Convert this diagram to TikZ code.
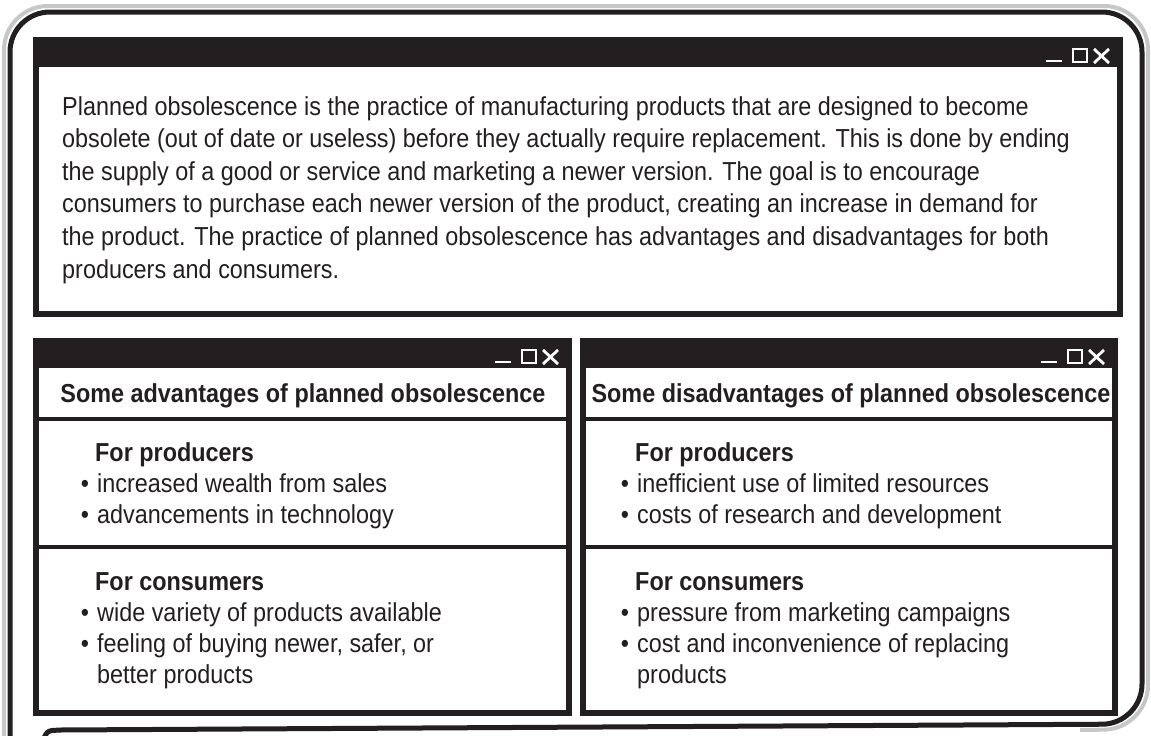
\documentclass[tikz,border=0pt]{standalone}
\usepackage{fontspec}
\setmainfont{Liberation Sans}[FakeStretch=0.90]
\definecolor{ink}{HTML}{231F20}
\definecolor{rim}{HTML}{C6C7C9}
\tikzset{
	winframe/.style={draw=ink, line width=6pt},
	winbar/.style={fill=ink},
	divider/.style={draw=ink, line width=4pt},
	btn/.style={draw=white, line width=2.8pt},
	bodytext/.style={anchor=base west, inner sep=0pt, text=ink, font=\fontsize{26}{31}\selectfont},
	headtext/.style={anchor=base, inner sep=0pt, text=ink, font=\fontsize{26}{31}\selectfont\bfseries},
	subhead/.style={anchor=base west, inner sep=0pt, text=ink, font=\fontsize{26}{31}\selectfont\bfseries},
	bulletdot/.style={anchor=base, inner sep=0pt, text=ink, font=\fontsize{26}{31}\selectfont}
}

\begin{document}
\begin{tikzpicture}[x=1pt, y=-1pt]
	\useasboundingbox (0,0) rectangle (1151,736);
	
	% outer frame
	\draw[rim, line width=4pt, rounded corners=44pt] (4,740) -- (4,6) -- (1148,6) -- (1148,729) -- (1080,730);
	\draw[ink, line width=5pt, rounded corners=40pt] (10,740) -- (10,12) -- (1142,12) -- (1142,724) -- (60,730);
	\draw[ink, line width=5pt] (60,730) -- (52,730.5) .. controls (48,731) and (46,733) .. (44,738);
	
	% windows
	\fill[winbar] (33,37) rectangle (1123,67);
	\draw[winframe] (36,40) rectangle (1120,314);
	\foreach \lx/\rx in {33/572, 580/1118} {
		\fill[winbar] (\lx,338) rectangle (\rx,368);
		\draw[winframe] (\lx+3,341) rectangle (\rx-3,713);
		\draw[divider] (\lx+3,419) -- (\rx-3,419);
		\draw[divider] (\lx+3,547) -- (\rx-3,547);
	}
	\foreach \rx/\by in {1123/67, 572/368, 1118/368} {
		\draw[btn] (\rx-77,\by-6) -- (\rx-61,\by-6);
		\draw[btn] (\rx-50,\by-18) rectangle (\rx-36,\by-5);
		\draw[btn] (\rx-29,\by-18) -- (\rx-14,\by-4) (\rx-29,\by-4) -- (\rx-14,\by-18);
	}
	
	% intro text
	\foreach \txt [count=\i from 0] in {
		{Planned obsolescence is the practice of manufacturing products that are designed to become},
		{obsolete (out of date or useless) before they actually require replacement. This is done by ending},
		{the supply of a good or service and marketing a newer version. The goal is to encourage},
		{consumers to purchase each newer version of the product, creating an increase in demand for},
		{the product. The practice of planned obsolescence has advantages and disadvantages for both},
		{producers and consumers.}} {
		\node[bodytext] (intro\i) at (62,{115+32.6*\i}) {\txt};
	}
	
	% advantages
	\node[headtext] (advhead) at (303,402) {Some advantages of planned obsolescence};
	\node[subhead] (advprod) at (95,461) {For producers};
	\node[subhead] (advcons) at (95,590) {For consumers};
	\node[bodytext] (adv1) at (97,492) {increased wealth from sales};
	\node[bodytext] (adv2) at (97,523) {advancements in technology};
	\node[bodytext] (adv3) at (97,621) {wide variety of products available};
	\node[bodytext] (adv4) at (97,652) {feeling of buying newer, safer, or};
	\node[bodytext] (adv5) at (97,683) {better products};
	
	% disadvantages
	\node[headtext] (dishead) at (851,402) {Some disadvantages of planned obsolescence};
	\node[subhead] (disprod) at (635,461) {For producers};
	\node[subhead] (discons) at (635,590) {For consumers};
	\node[bodytext] (dis1) at (637,492) {inefficient use of limited resources};
	\node[bodytext] (dis2) at (637,523) {costs of research and development};
	\node[bodytext] (dis3) at (637,621) {pressure from marketing campaigns};
	\node[bodytext] (dis4) at (637,652) {cost and inconvenience of replacing};
	\node[bodytext] (dis5) at (637,683) {products};
	
	\foreach \bx in {85, 625} {
		\foreach \by [count=\k] in {492, 523, 621, 652} {
			\node[bulletdot] (dot\bx-\k) at (\bx,\by) {\textbullet};
		}
	}
\end{tikzpicture}
\end{document}
